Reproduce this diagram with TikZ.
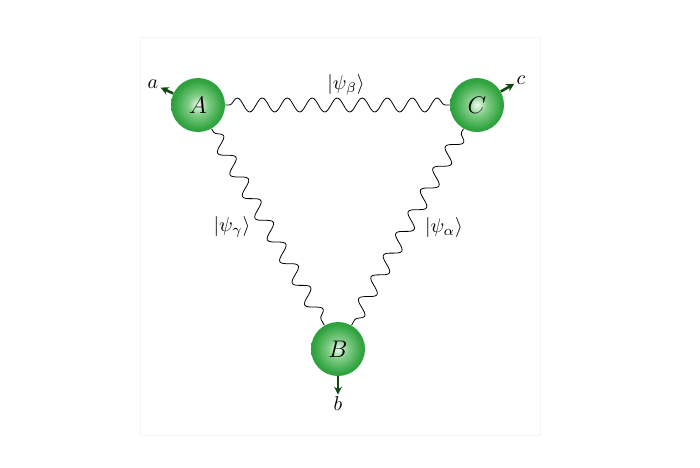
\documentclass[tikz,border=0pt]{standalone}
\usetikzlibrary{decorations.pathmorphing,arrows.meta}
\definecolor{gA}{RGB}{240,252,240}
\definecolor{gB}{RGB}{130,205,135}
\definecolor{gC}{RGB}{50,165,65}
\definecolor{gD}{RGB}{22,135,42}
\definecolor{gE}{RGB}{8,110,28}
\definecolor{arrowgreen}{RGB}{15,75,15}
\pgfdeclareradialshading{greenball}{\pgfpoint{0bp}{0bp}}{color(0bp)=(gA); color(9bp)=(gB); color(22bp)=(gC); color(40bp)=(gD); color(50bp)=(gE); color(100bp)=(gE)}
\begin{document}
\begin{tikzpicture}[x=0.5pt,y=-0.5pt,
  ballnode/.style={circle,minimum size=27pt,inner sep=0pt,shading=greenball,font=\large},
  wave/.style={decorate,decoration={snake,amplitude=3.5pt,segment length=12.5pt,pre length=2pt,post length=2pt},line width=0.4pt},
  outarrow/.style={-{Stealth[length=4pt,width=4pt]},line width=1.3pt,draw=arrowgreen},
  lbl/.style={inner sep=1pt}]
\useasboundingbox (0,0) rectangle (700,467);
\draw[black!4] (140,37) rectangle (540,435);
\node[ballnode] (A) at (198,105) {$A$};
\node[ballnode] (C) at (477,105) {$C$};
\node[ballnode] (B) at (338,349) {$B$};
\node[lbl] (la) at (153,84) {$a$};
\node[lbl] (lc) at (521,80) {$c$};
\node[lbl] (lb) at (338,404) {$b$};
\draw[wave] (A) -- (C);
\draw[wave] (A) -- (B);
\draw[wave] (C) -- (B);
\node (pb) at (346,85) {$|\psi_\beta\rangle$};
\node (pg) at (232,227) {$|\psi_\gamma\rangle$};
\node (pa) at (444,227) {$|\psi_\alpha\rangle$};
\draw[outarrow] (A) -- (la);
\draw[outarrow] (C) -- (lc);
\draw[outarrow] (B) -- (lb);
\end{tikzpicture}
\end{document}
